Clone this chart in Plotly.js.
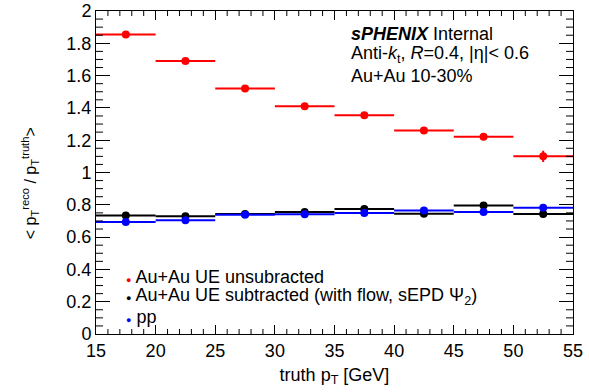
<!DOCTYPE html>
<html>
<head>
<meta charset="utf-8">
<script src="https://cdn.plot.ly/plotly-3.0.1.min.js"></script>
<style>html,body{margin:0;padding:0;background:#fff;}#chart{width:589px;height:392px;}</style>
</head>
<body>
<div id="chart"></div>
<script>
const ptBins = [17.5, 22.5, 27.5, 32.5, 37.5, 42.5, 47.5, 52.5];
const binHalfWidth = [2.5, 2.5, 2.5, 2.5, 2.5, 2.5, 2.5, 2.5];
const auauUnsub = [1.855, 1.69, 1.52, 1.41, 1.355, 1.26, 1.222, 1.10];
const auauUnsubErr = [0.02, 0.006, 0.006, 0.006, 0.006, 0.006, 0.02, 0.035];
const auauSub = [0.733, 0.729, 0.743, 0.755, 0.774, 0.745, 0.795, 0.743];
const auauSubErr = [0.006, 0.005, 0.005, 0.005, 0.006, 0.006, 0.01, 0.02];
const ppVals = [0.693, 0.704, 0.739, 0.741, 0.749, 0.764, 0.755, 0.782];
const ppErr = [0.004, 0.004, 0.004, 0.004, 0.004, 0.004, 0.004, 0.004];
const names = ["Au+Au UE unsubracted", "Au+Au UE subtracted (with flow, sEPD &#936;<sub>2</sub>)", "pp"];
const colors = ["#ff0000", "#000000", "#0000ff"];

const series = [[auauUnsub, auauUnsubErr], [auauSub, auauSubErr], [ppVals, ppErr]];
const traces = series.map((s, i) => ({
  x: ptBins, y: s[0], type: 'scatter', mode: 'markers', name: names[i], showlegend: false,
  marker: {color: colors[i], size: 8, symbol: 'circle'},
  error_x: {type: 'data', array: binHalfWidth, color: colors[i], thickness: 2, width: 0},
  error_y: {type: 'data', array: s[1], color: colors[i], thickness: 2, width: 0}
}));

const fam = 'Liberation Sans, Arial, Helvetica, sans-serif';
const font = {family: fam, color: '#000'};

const legendY = [0.1765, 0.1146, 0.0526];
const legendAnn = names.map((n, i) => ({
  xref: 'paper', yref: 'paper', x: 0.058, y: legendY[i], xanchor: 'left', yanchor: 'middle',
  showarrow: false, align: 'left',
  text: '<span style="color:' + colors[i] + ';font-size:9px">&#9679;</span> ' + n,
  font: {size: 18, family: fam, color: '#000'}
}));

const xRange = [15, 55], yRange = [0, 2];
const plotW = 589 - 96 - 16, plotH = 392 - 11 - 58;

// ROOT-style minor tick marks (axis decoration), placed via the axis scales
const minorTicks = [];
const tickLine = {color: '#000', width: 1};
for (let v = xRange[0]; v <= xRange[1]; v++) {
  if ((v - xRange[0]) % 5 === 0) continue;
  const xl = 5 / plotH;
  minorTicks.push({type: 'line', layer: 'above', xref: 'x', yref: 'paper', x0: v, x1: v, y0: 0, y1: xl, line: tickLine});
  minorTicks.push({type: 'line', layer: 'above', xref: 'x', yref: 'paper', x0: v, x1: v, y0: 1, y1: 1 - xl, line: tickLine});
}
for (let i = 0; i <= 40; i++) {
  if (i % 4 === 0) continue;
  const v = i * 0.05, yl = 7 / plotW;
  minorTicks.push({type: 'line', layer: 'above', xref: 'paper', yref: 'y', x0: 0, x1: yl, y0: v, y1: v, line: tickLine});
  minorTicks.push({type: 'line', layer: 'above', xref: 'paper', yref: 'y', x0: 1, x1: 1 - yl, y0: v, y1: v, line: tickLine});
}

const layout = {
  width: 589, height: 392,
  margin: {l: 96, r: 16, t: 11, b: 58},
  paper_bgcolor: '#fff', plot_bgcolor: '#fff',
  font: font,
  showlegend: false,
  xaxis: {
    range: xRange, tickmode: 'linear', dtick: 5, tick0: 15, ticks: 'inside', ticklen: 9, tickwidth: 1, tickcolor: '#000',
    showline: true, linecolor: '#000', linewidth: 1, mirror: 'allticks', showgrid: false, zeroline: false,
    tickfont: {size: 18},
    title: {text: 'truth p<sub>T</sub> [GeV]', font: {size: 18}, standoff: 8}
  },
  yaxis: {
    range: yRange, tickmode: 'linear', tick0: 0, dtick: 0.2, ticks: 'inside', ticklen: 14, tickwidth: 1, tickcolor: '#000',
    showline: true, linecolor: '#000', linewidth: 1, mirror: 'allticks', showgrid: false, zeroline: false,
    tickfont: {size: 18}
  },
  shapes: minorTicks,
  annotations: [
    {xref: 'paper', yref: 'paper', x: -0.138, y: 0.467, xanchor: 'center', yanchor: 'middle', showarrow: false, textangle: -90,
     text: '&lt; p<sub>T</sub><sup>reco</sup> / p<sub>T</sub><sup>truth</sup>&gt;', font: {size: 16}},
    {xref: 'paper', yref: 'paper', x: 0.53, y: 0.93, xanchor: 'left', yanchor: 'middle', showarrow: false,
     text: '<b><i>sPHENIX</i></b> Internal', font: {size: 18}},
    {xref: 'paper', yref: 'paper', x: 0.53, y: 0.864, xanchor: 'left', yanchor: 'middle', showarrow: false,
     text: 'Anti-<i>k</i><sub>t</sub>, <i>R</i>=0.4, |&#951;|< 0.6', font: {size: 18}},
    {xref: 'paper', yref: 'paper', x: 0.53, y: 0.8, xanchor: 'left', yanchor: 'middle', showarrow: false,
     text: 'Au+Au 10-30%', font: {size: 18}}
  ].concat(legendAnn)
};
Plotly.newPlot('chart', traces, layout, {staticPlot: true, displayModeBar: false});
</script>
</body>
</html>
